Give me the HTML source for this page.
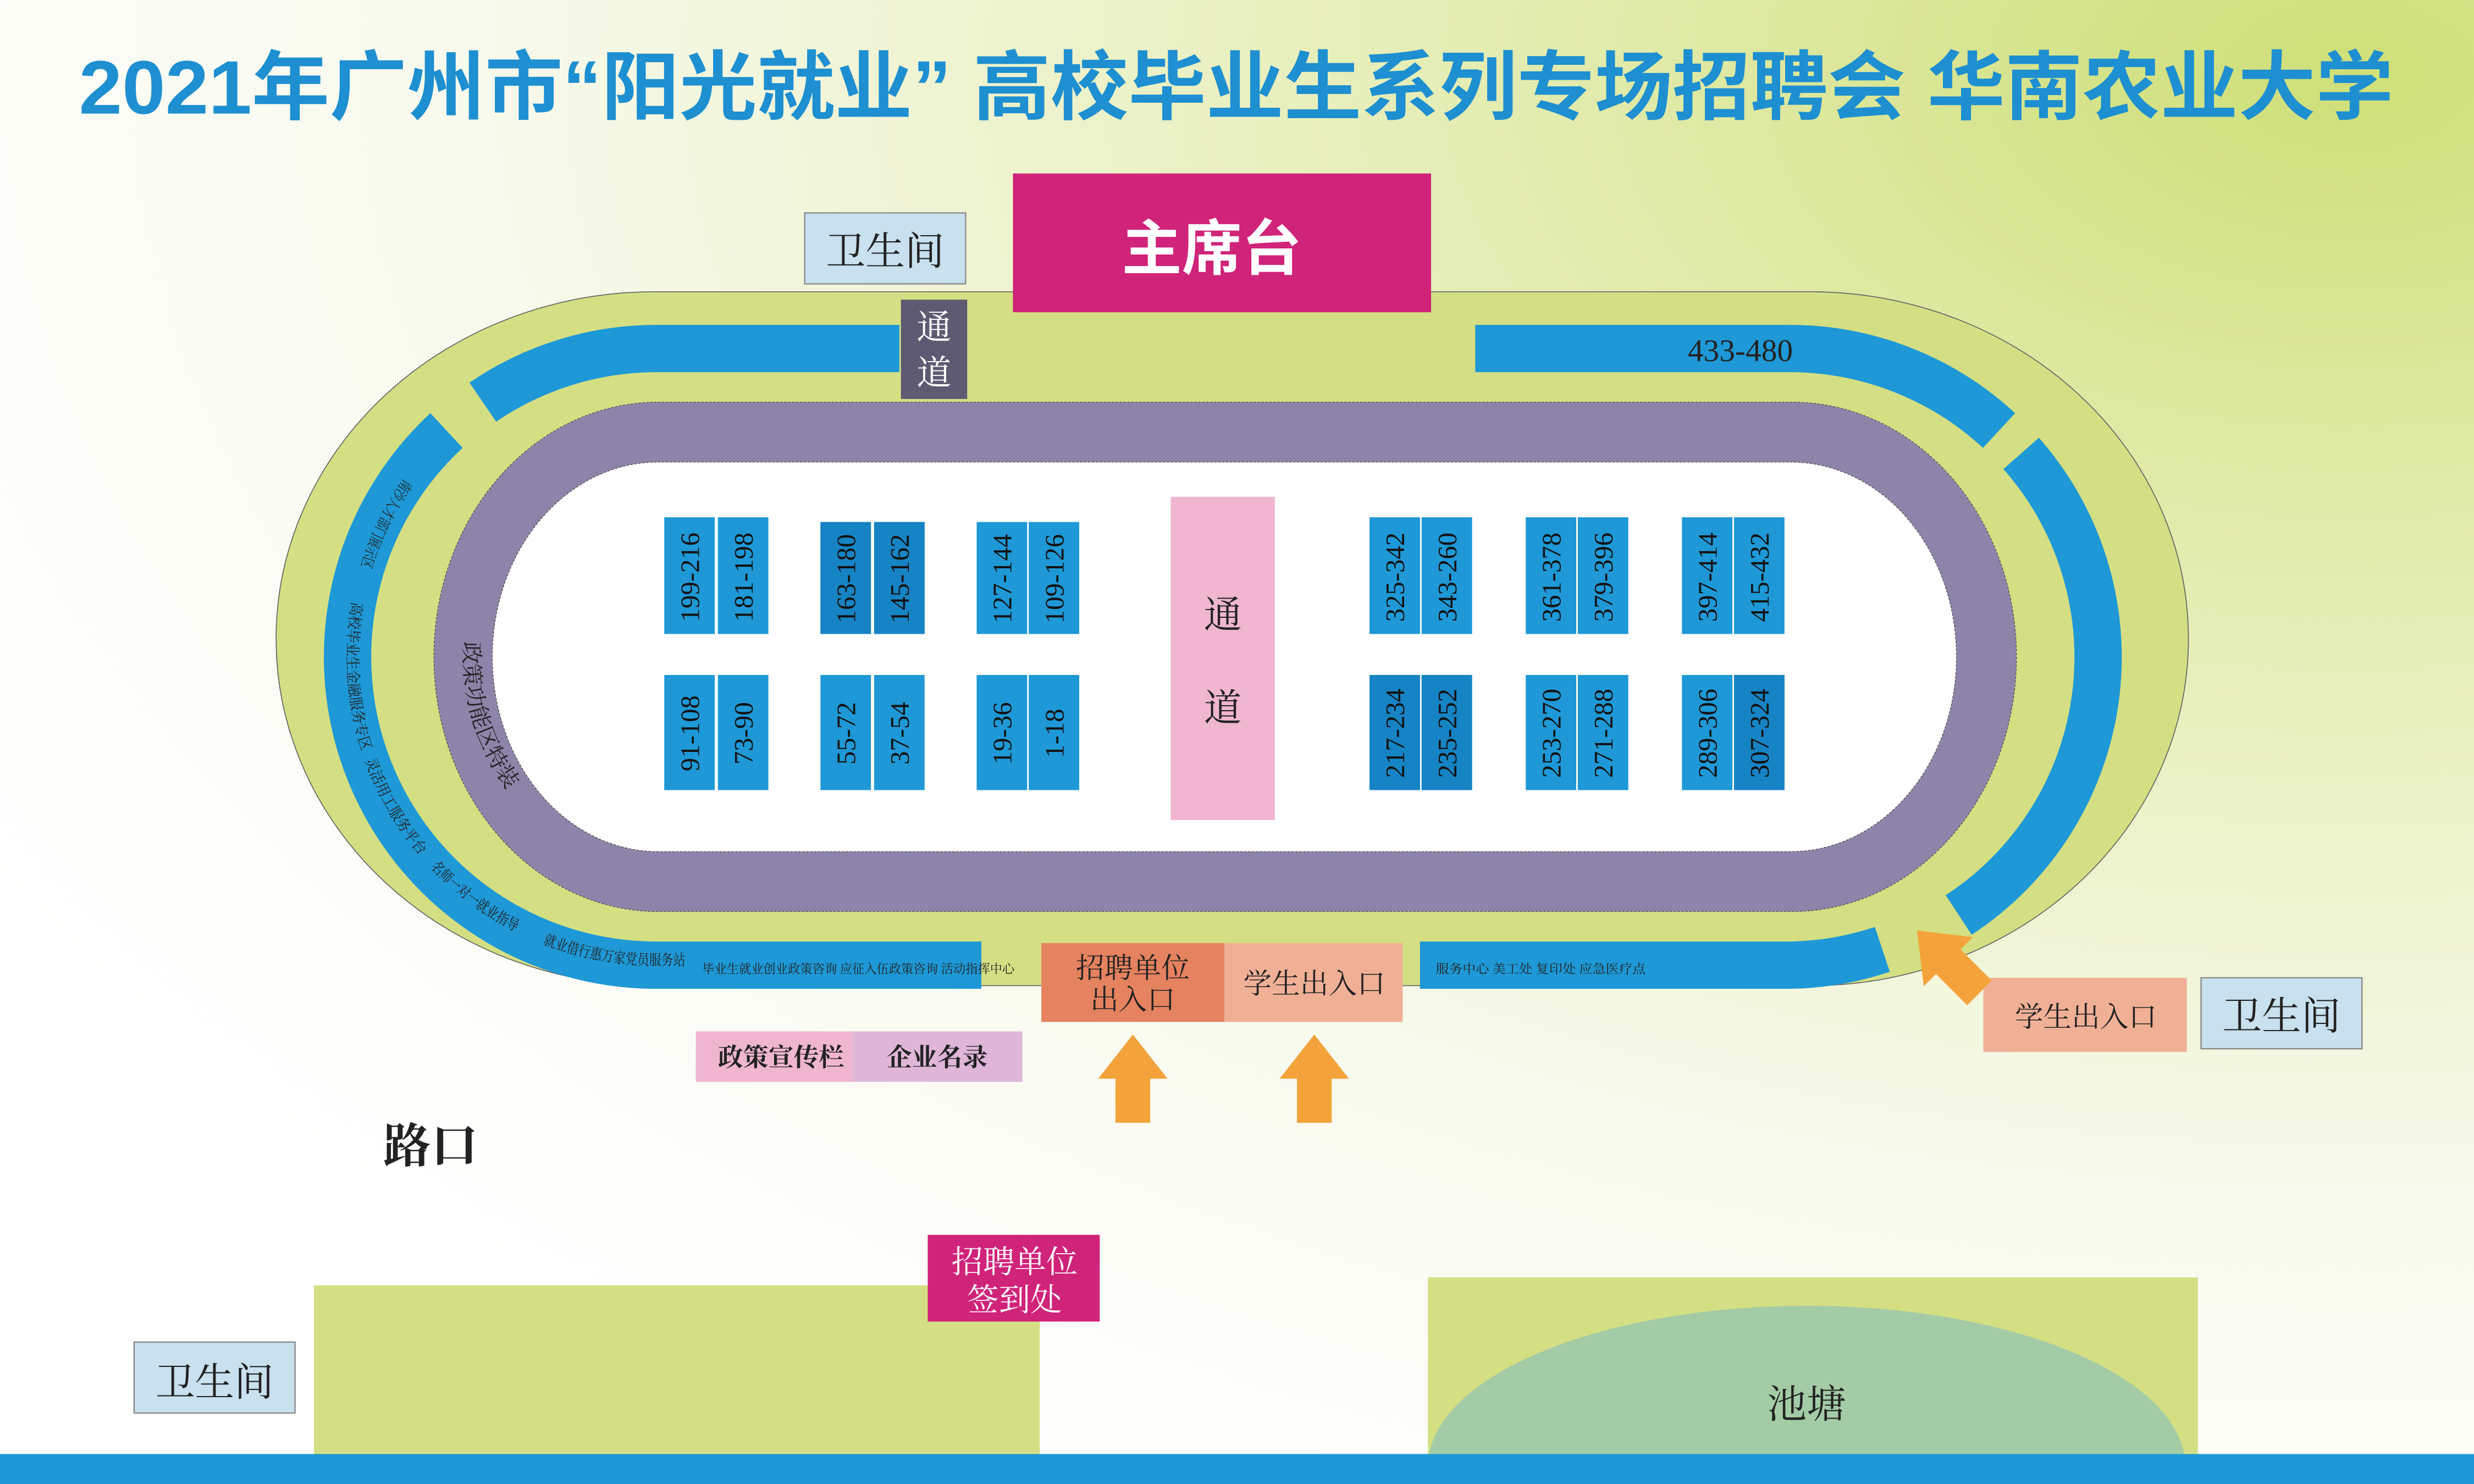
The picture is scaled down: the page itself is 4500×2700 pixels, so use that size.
<!DOCTYPE html>
<html><head><meta charset="utf-8"><style>
html,body{margin:0;padding:0;width:4500px;height:2700px;overflow:hidden;position:relative;}
svg{display:block;position:absolute;left:0;top:0}
.s{font-family:"Liberation Serif","Noto Serif CJK SC",serif;}
.h{font-family:"Liberation Sans","Noto Sans CJK SC",sans-serif;}
</style></head><body>
<svg width="4500" height="2700" viewBox="0 0 1568 941" preserveAspectRatio="none" xmlns="http://www.w3.org/2000/svg">
<defs>
<radialGradient id="bg" cx="0.95" cy="0.05" r="1.1">
<stop offset="0" stop-color="#cfdf78"/>
<stop offset="0.35" stop-color="#e6eeb8"/>
<stop offset="0.7" stop-color="#f8faee"/>
<stop offset="1" stop-color="#ffffff"/>
</radialGradient>
<path id="leftArc" d="M 278.6 277 A 195.5 195.5 0 0 0 415.5 612 L 650 612"/>
<path id="purpArc" d="M 436.5 274 A 142.5 142.5 0 0 0 436.5 559"/>
</defs>
<rect width="1568" height="941" fill="url(#bg)"/>

<text class="h" x="50" y="72" font-size="48" font-weight="bold" fill="#1e8fd0" textLength="1467" lengthAdjust="spacingAndGlyphs">2021年广州市“阳光就业” 高校毕业生系列专场招聘会  华南农业大学</text>

<path d="M 415 185 L 1147 185 A 240 220 0 0 1 1147 625 L 415 625 A 240 220 0 0 1 415 185 Z" fill="#d4df83" stroke="#666" stroke-width="0.6"/>

<g fill="none" stroke="#1e98d6" stroke-width="30" stroke-linecap="butt">
<path d="M 570 221 L 415.5 221 A 195.5 195.5 0 0 0 306 255"/>
<path d="M 283 273 A 195.5 195.5 0 0 0 415.5 612 L 622 612"/>
<path d="M 935 221 L 1134.5 221 A 195.5 195.5 0 0 1 1267 273"/>
<path d="M 1281 287.5 A 195.5 195.5 0 0 1 1241.4 580.2"/>
<path d="M 900 612 L 1134.5 612 A 195.5 195.5 0 0 0 1193 602"/>
</g>

<path d="M 417 255 L 1136 255 A 142 161.5 0 0 1 1136 578 L 417 578 A 142 161.5 0 0 1 417 255 Z" fill="#8e84aa" stroke="#555" stroke-width="0.5" stroke-dasharray="1.5 1"/>
<path d="M 417 293 L 1135 293 A 105 123.5 0 0 1 1135 540 L 417 540 A 105 123.5 0 0 1 417 293 Z" fill="#ffffff" stroke="#555" stroke-width="0.5" stroke-dasharray="1.5 1"/>

<g class="s" font-size="9.5" fill="#222">
<text><textPath href="#leftArc" startOffset="35" textLength="62" lengthAdjust="spacingAndGlyphs">南沙人才部门展示区</textPath></text>
<text><textPath href="#leftArc" startOffset="120" textLength="96" lengthAdjust="spacingAndGlyphs">高校毕业生金融服务专区</textPath></text>
<text><textPath href="#leftArc" startOffset="222" textLength="70" lengthAdjust="spacingAndGlyphs">灵活用工服务平台</textPath></text>
<text><textPath href="#leftArc" startOffset="302" textLength="68" lengthAdjust="spacingAndGlyphs">名师一对一就业指导</textPath></text>
<text><textPath href="#leftArc" startOffset="389" textLength="92" lengthAdjust="spacingAndGlyphs">就业借行惠万家党员服务站</textPath></text>
</g>
<text class="s" font-size="8" fill="#222" x="445" y="617" textLength="198" lengthAdjust="spacingAndGlyphs">毕业生就业创业政策咨询  应征入伍政策咨询  活动指挥中心</text>
<text class="s" font-size="14" fill="#222"><textPath href="#purpArc" startOffset="214" textLength="100" lengthAdjust="spacingAndGlyphs">政策功能区特装</textPath></text>
<text class="s" font-size="8" fill="#222" x="910" y="617" textLength="133" lengthAdjust="spacingAndGlyphs">服务中心  美工处  复印处  应急医疗点</text>

<text class="s" x="1103" y="229" font-size="20" fill="#222" text-anchor="middle">433-480</text>

<g class="s" font-size="17" fill="#111">
<g fill="#1e98d6">
<rect x="421" y="328" width="32" height="74"/><rect x="455" y="328" width="32" height="74"/>
<rect x="520" y="331" width="32" height="71"/><rect x="554" y="331" width="32" height="71"/>
<rect x="619" y="331" width="32" height="71"/><rect x="652" y="331" width="32" height="71"/>
<rect x="868" y="328" width="32" height="74"/><rect x="901" y="328" width="32" height="74"/>
<rect x="967" y="328" width="32" height="74"/><rect x="1000" y="328" width="32" height="74"/>
<rect x="1066" y="328" width="32" height="74"/><rect x="1099" y="328" width="32" height="74"/>
<rect x="421" y="428" width="32" height="73"/><rect x="455" y="428" width="32" height="73"/>
<rect x="520" y="428" width="32" height="73"/><rect x="554" y="428" width="32" height="73"/>
<rect x="619" y="428" width="32" height="73"/><rect x="652" y="428" width="32" height="73"/>
<rect x="868" y="428" width="32" height="73"/><rect x="901" y="428" width="32" height="73"/>
<rect x="967" y="428" width="32" height="73"/><rect x="1000" y="428" width="32" height="73"/>
<rect x="1066" y="428" width="32" height="73"/><rect x="1099" y="428" width="32" height="73"/>
</g>
<g fill="#1683c4">
<rect x="520" y="331" width="32" height="71"/><rect x="554" y="331" width="32" height="71"/>
<rect x="868" y="428" width="32" height="73"/><rect x="901" y="428" width="32" height="73"/>
<rect x="1099" y="428" width="32" height="73"/>
</g>
<g text-anchor="middle">
<text transform="translate(443,366) rotate(-90)">199-216</text>
<text transform="translate(477,366) rotate(-90)">181-198</text>
<text transform="translate(542,367) rotate(-90)">163-180</text>
<text transform="translate(576,367) rotate(-90)">145-162</text>
<text transform="translate(641,367) rotate(-90)">127-144</text>
<text transform="translate(674,367) rotate(-90)">109-126</text>
<text transform="translate(890,366) rotate(-90)">325-342</text>
<text transform="translate(923,366) rotate(-90)">343-260</text>
<text transform="translate(989,366) rotate(-90)">361-378</text>
<text transform="translate(1022,366) rotate(-90)">379-396</text>
<text transform="translate(1088,366) rotate(-90)">397-414</text>
<text transform="translate(1121,366) rotate(-90)">415-432</text>
<text transform="translate(443,465) rotate(-90)">91-108</text>
<text transform="translate(477,465) rotate(-90)">73-90</text>
<text transform="translate(542,465) rotate(-90)">55-72</text>
<text transform="translate(576,465) rotate(-90)">37-54</text>
<text transform="translate(641,465) rotate(-90)">19-36</text>
<text transform="translate(674,465) rotate(-90)">1-18</text>
<text transform="translate(890,465) rotate(-90)">217-234</text>
<text transform="translate(923,465) rotate(-90)">235-252</text>
<text transform="translate(989,465) rotate(-90)">253-270</text>
<text transform="translate(1022,465) rotate(-90)">271-288</text>
<text transform="translate(1088,465) rotate(-90)">289-306</text>
<text transform="translate(1121,465) rotate(-90)">307-324</text>
</g>
</g>

<rect x="742" y="315" width="66" height="205" fill="#f0b6cf"/>
<text class="s" x="775" y="398" font-size="24" fill="#222" text-anchor="middle">通</text>
<text class="s" x="775" y="457" font-size="24" fill="#222" text-anchor="middle">道</text>

<rect x="642" y="110" width="265" height="88" fill="#d0237a"/>
<text class="h" x="768" y="171" font-size="38" font-weight="bold" fill="#fff" text-anchor="middle">主席台</text>
<rect x="510" y="135" width="102" height="45" fill="#c9e0ee" stroke="#888" stroke-width="0.8"/>
<text class="s" x="561" y="168" font-size="25" fill="#222" text-anchor="middle">卫生间</text>
<rect x="571" y="190" width="42" height="63" fill="#5e5a72"/>
<text class="s" x="592" y="215" font-size="22" fill="#fff" text-anchor="middle">通</text>
<text class="s" x="592" y="244" font-size="22" fill="#fff" text-anchor="middle">道</text>

<rect x="660" y="598" width="116" height="50" fill="#e5825f"/>
<text class="s" x="718" y="620" font-size="18" fill="#222" text-anchor="middle">招聘单位</text>
<text class="s" x="718" y="640" font-size="18" fill="#222" text-anchor="middle">出入口</text>
<rect x="776" y="598" width="113" height="50" fill="#f0b096"/>
<text class="s" x="833" y="630" font-size="18" fill="#222" text-anchor="middle">学生出入口</text>
<rect x="1257" y="620" width="129" height="47" fill="#f0b096"/>
<text class="s" x="1322" y="651" font-size="18" fill="#222" text-anchor="middle">学生出入口</text>
<rect x="1395" y="620" width="102" height="45" fill="#c9e0ee" stroke="#888" stroke-width="0.8"/>
<text class="s" x="1446" y="653" font-size="25" fill="#222" text-anchor="middle">卫生间</text>

<g fill="#f3a33a">
<polygon points="718,656 740,684 729,684 729,712 707,712 707,684 696,684"/>
<polygon points="833,656 855,684 844,684 844,712 822,712 822,684 811,684"/>
<g transform="translate(1215,590) rotate(-45)">
<polygon points="0,0 22,28 11,28 11,56 -11,56 -11,28 -22,28"/>
</g>
</g>

<rect x="441" y="654" width="99" height="32" fill="#f0b6cf"/>
<text class="s" x="495" y="676" font-size="16" font-weight="bold" fill="#222" text-anchor="middle">政策宣传栏</text>
<rect x="540" y="654" width="108" height="32" fill="#dfb6d8"/>
<text class="s" x="594" y="676" font-size="16" font-weight="bold" fill="#222" text-anchor="middle">企业名录</text>

<text class="s" x="273" y="737" font-size="30" font-weight="bold" fill="#222" text-anchor="middle">路口</text>

<rect x="199" y="815" width="460" height="110" fill="#d4df83"/>
<rect x="85" y="851" width="102" height="45" fill="#c9e0ee" stroke="#888" stroke-width="0.8"/>
<text class="s" x="136" y="885" font-size="25" fill="#222" text-anchor="middle">卫生间</text>
<rect x="588" y="783" width="109" height="55" fill="#d0237a"/>
<text class="s" x="643" y="807" font-size="20" fill="#fff" text-anchor="middle">招聘单位</text>
<text class="s" x="643" y="831" font-size="20" fill="#fff" text-anchor="middle">签到处</text>
<rect x="905" y="810" width="488" height="115" fill="#d4df83"/>
<ellipse cx="1145" cy="930" rx="240" ry="102" fill="#a3cca6"/>
<text class="s" x="1145" y="899" font-size="25" fill="#222" text-anchor="middle">池塘</text>
<rect x="0" y="922" width="1568" height="19" fill="#1e98d6"/>
</svg>
</body></html>
